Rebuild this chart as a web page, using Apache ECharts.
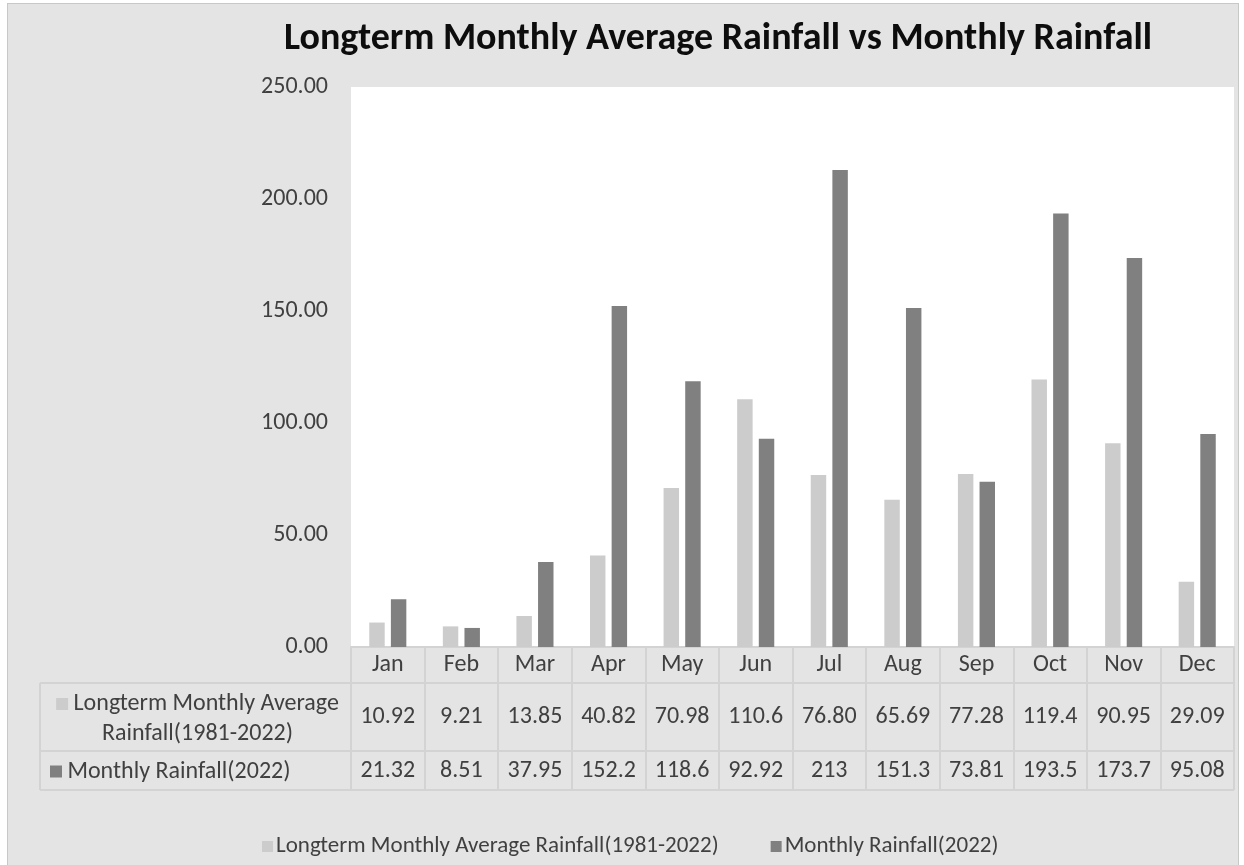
<!DOCTYPE html>
<html>
<head>
<meta charset="utf-8">
<script src="https://cdn.jsdelivr.net/npm/echarts@6/dist/echarts.min.js"></script>
<style>
    html, body { margin: 0; padding: 0; background: #fff; }
    #panel { position: absolute; left: 7px; top: 3px; width: 1230px; height: 870px; background: #e4e4e4; border: 1px solid #c8c8c8; }
    #main { position: absolute; left: 0; top: 0; width: 1244px; height: 865px; }
</style>
</head>
<body>
<div id="panel"></div>
<div id="main"></div>
<script>
var months = ['Jan', 'Feb', 'Mar', 'Apr', 'May', 'Jun', 'Jul', 'Aug', 'Sep', 'Oct', 'Nov', 'Dec'];
var longterm = [10.92, 9.21, 13.85, 40.82, 70.98, 110.6, 76.80, 65.69, 77.28, 119.4, 90.95, 29.09];
var rain2022 = [21.32, 8.51, 37.95, 152.2, 118.6, 92.92, 213, 151.3, 73.81, 193.5, 173.7, 95.08];
// table text as shown in the data table
var longtermText = ['10.92', '9.21', '13.85', '40.82', '70.98', '110.6', '76.80', '65.69', '77.28', '119.4', '90.95', '29.09'];
var rain2022Text = ['21.32', '8.51', '37.95', '152.2', '118.6', '92.92', '213', '151.3', '73.81', '193.5', '173.7', '95.08'];
var seriesNames = ['Longterm Monthly Average Rainfall(1981-2022)', 'Monthly Rainfall(2022)'];

var FONT = 'Carlito, "Noto Sans", sans-serif';
var TXT = '#404040';
var LINE = '#d3d3d3';
var C1 = '#cccccc', C2 = '#808080';

// layout of the plot + data table
var gl = 351, gr = 1234, gt = 87, gb = 647;
var tableLeft = 40, row1 = 683, row2 = 751, tableBottom = 790;

var myChart = echarts.init(document.getElementById('main'));

var hline = function (y) {
    return { type: 'line', shape: { x1: tableLeft, y1: y, x2: gr, y2: y }, style: { stroke: LINE, lineWidth: 2 } };
};

var option = {
    animation: false,
    textStyle: { fontFamily: FONT },
    title: {
        text: 'Longterm Monthly Average Rainfall vs Monthly Rainfall',
        left: 279,
        top: 15,
        textStyle: { fontFamily: FONT, fontWeight: 'bold', fontSize: 38, color: '#0d0d0d' }
    },
    legend: {
        bottom: 2,
        left: 257,
        itemWidth: 11,
        itemHeight: 11,
        itemGap: 52,
        icon: 'rect',
        textStyle: { fontFamily: FONT, fontSize: 23, color: TXT, padding: [0, 0, 0, -2] },
        data: seriesNames
    },
    grid: {
        left: gl,
        right: 1244 - gr,
        top: gt,
        bottom: 865 - gb,
        show: true,
        backgroundColor: '#fff',
        borderWidth: 0
    },
    xAxis: [
        {
            type: 'category',
            data: months,
            axisLine: { lineStyle: { color: LINE, width: 2 } },
            axisTick: { show: true, length: tableBottom - gb, lineStyle: { color: LINE, width: 2 } },
            axisLabel: { margin: 6, fontSize: 24, color: TXT, fontFamily: FONT }
        },
        {
            type: 'category',
            data: longtermText,
            position: 'bottom',
            axisLine: { show: false },
            axisTick: { show: false },
            axisLabel: { margin: 58, fontSize: 24, color: TXT, fontFamily: FONT }
        },
        {
            type: 'category',
            data: rain2022Text,
            position: 'bottom',
            axisLine: { show: false },
            axisTick: { show: false },
            axisLabel: { margin: 112, fontSize: 24, color: TXT, fontFamily: FONT }
        }
    ],
    yAxis: {
        type: 'value',
        min: 0,
        max: 250,
        interval: 50,
        splitLine: { show: false },
        axisLine: { show: false },
        axisTick: { show: false },
        axisLabel: {
            margin: 23,
            fontSize: 24,
            color: TXT,
            fontFamily: FONT,
            formatter: function (v) { return v.toFixed(2); }
        }
    },
    series: [
        {
            name: seriesNames[0],
            type: 'bar',
            barWidth: '21%',
            barGap: '40%',
            itemStyle: { color: C1 },
            data: longterm
        },
        {
            name: seriesNames[1],
            type: 'bar',
            barWidth: '21%',
            itemStyle: { color: C2 },
            data: rain2022
        }
    ],
    graphic: [
        hline(row1),
        hline(row2),
        hline(tableBottom),
        { type: 'line', shape: { x1: tableLeft, y1: row1, x2: tableLeft, y2: tableBottom }, style: { stroke: LINE, lineWidth: 2 } },
        {
            type: 'text',
            x: (tableLeft + gl) / 2 + 2,
            y: (row1 + row2) / 2 + 2,
            style: {
                text: '{k|} Longterm Monthly Average\nRainfall(1981-2022)',
                align: 'center',
                verticalAlign: 'middle',
                font: '24px ' + FONT,
                fill: TXT,
                lineHeight: 30,
                rich: { k: { backgroundColor: C1, width: 12, height: 12 } }
            }
        },
        {
            type: 'text',
            x: tableLeft + 10,
            y: (row2 + tableBottom) / 2 + 1,
            style: {
                text: '{k|} Monthly Rainfall(2022)',
                align: 'left',
                verticalAlign: 'middle',
                font: '24px ' + FONT,
                fill: TXT,
                rich: { k: { backgroundColor: C2, width: 12, height: 12 } }
            }
        }
    ]
};
myChart.setOption(option);
</script>
</body>
</html>
